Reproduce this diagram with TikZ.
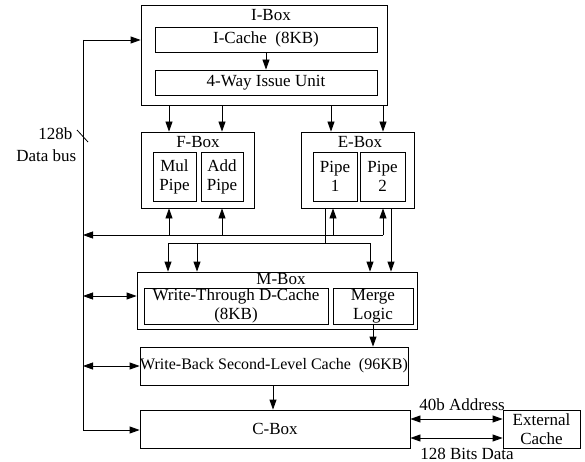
\documentclass[tikz,border=0pt]{standalone}
\usepackage{fontspec}
\setmainfont{Liberation Serif}
\usetikzlibrary{arrows.meta}
\tikzset{
  blk/.style={draw, line width=0.8pt, inner sep=0pt, align=center},
  arr/.style={-{Triangle[length=10pt,width=7pt]}},
  darr/.style={{Triangle[length=10pt,width=7pt]}-{Triangle[length=10pt,width=7pt]}},
}
\begin{document}
\begin{tikzpicture}[x=1pt,y=-1pt,line width=0.8pt,font=\fontsize{17}{19}\selectfont]
      \useasboundingbox (0,0) rectangle (585,462);
      % outer boxes
      \node[blk, minimum width=246, minimum height=100] (ibox) at (264,55) {};
      \node[blk, minimum width=113, minimum height=76] (fbox) at (197.5,170) {};
      \node[blk, minimum width=113, minimum height=76] (ebox) at (357.5,170) {};
      \node[blk, minimum width=280, minimum height=57] (mbox) at (277,300.5) {};
      \node[inner sep=0pt] (ilbl) at (271,15) {I-Box};
      \node[inner sep=0pt] (flbl) at (198,142) {F-Box};
      \node[inner sep=0pt] (elbl) at (360,142) {E-Box};
      \node[inner sep=0pt] (mlbl) at (281,279) {M-Box};
      % inner boxes
      \node[blk, minimum width=222, minimum height=25] (icache) at (266,39.5) {I-Cache\ \ (8KB)};
      \node[blk, minimum width=222, minimum height=25] (issue) at (266,82.5) {4-Way Issue Unit};
      \node[blk, minimum width=43, minimum height=49] (mul) at (174.5,176.5) {Mul\\Pipe};
      \node[blk, minimum width=42, minimum height=49] (add) at (222,176.5) {Add\\Pipe};
      \node[blk, minimum width=44, minimum height=49] (pipe1) at (335,176.5) {Pipe\\1};
      \node[blk, minimum width=45, minimum height=49] (pipe2) at (382.5,176.5) {Pipe\\2};
      \node[blk, minimum width=184, minimum height=36] (dcache) at (236,306) {Write-Through D-Cache\\(8KB)};
      \node[blk, minimum width=80, minimum height=36] (merge) at (373,306) {Merge\\Logic};
      \node[blk, minimum width=268, minimum height=38, font=\fontsize{16}{18}\selectfont] (l2) at (274,366) {Write-Back Second-Level Cache\ \ (96KB)};
      \node[blk, minimum width=270, minimum height=38] (cbox) at (275,429) {C-Box};
      \node[blk, minimum width=77, minimum height=38] (ext) at (541.5,429) {External\\Cache};
      % bus labels
      \node[anchor=east] (bw) at (76,134) {128b};
      \node[anchor=east] (bn) at (80,156) {Data bus};
      \node (adr) at (462,405) {40b Address};
      \node (dat) at (467,454) {128 Bits Data};
      % left data bus
      \coordinate (bt) at (83,40);
      \coordinate (bb) at (83,430);
      \coordinate (bl) at (83,235);
      \draw[arr] (bt) -- (bt -| ibox.west);
      \draw[arr] (bt) -- (bb) -- (bb -| cbox.west);
      \draw (77,130) -- (88,142);
      \draw[darr] (83,296) -- (83,296 -| mbox.west);
      \draw[darr] (83,366) -- (83,366 -| l2.west);
      % I-Box
      \draw[arr] (icache) -- (issue);
      \foreach \x in {169,222,331,383}
        \draw[arr] (\x,0 |- ibox.south) -- (\x,0 |- fbox.north);
      % result bus
      \draw[arr] (383,235) -- (bl);
      \foreach \x in {169,222,333,383}
        \draw[arr] (\x,235) -- (\x,0 |- fbox.south);
      \draw (325,0 |- ebox.south) -- (325,243);
      \draw (168,243) -- (370,243);
      \foreach \x in {168,197,370}
        \draw[arr] (\x,243) -- (\x,0 |- mbox.north);
      \draw[arr] (391,0 |- ebox.south) -- (391,0 |- mbox.north);
      % lower levels
      \draw[arr] (merge) -- (merge |- l2.north);
      \draw[arr] (273,0 |- l2.south) -- (273,0 |- cbox.north);
      \draw[darr] (cbox.east |- 0,419) -- (ext.west |- 0,419);
      \draw[darr] (cbox.east |- 0,438) -- (ext.west |- 0,438);
\end{tikzpicture}
\end{document}
